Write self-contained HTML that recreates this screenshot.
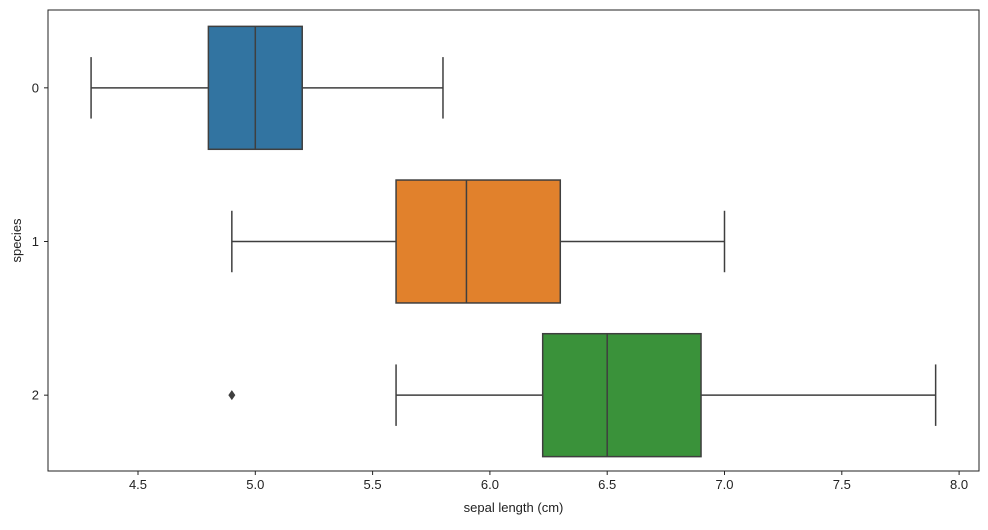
<!DOCTYPE html>
<html><head><meta charset="utf-8"><style>
body{margin:0;background:#fff;font-family:"Liberation Sans","DejaVu Sans",sans-serif}
svg text{font-family:"Liberation Sans","DejaVu Sans",sans-serif;font-size:13px;fill:#222}
</style></head><body>
<svg id="chart" width="988" height="525" xmlns="http://www.w3.org/2000/svg"></svg>
<script>
const categories=["0","1","2"];
const mins=[4.3,4.9,5.6];
const q1s=[4.8,5.6,6.225];
const medians=[5.0,5.9,6.5];
const q3s=[5.2,6.3,6.9];
const maxs=[5.8,7.0,7.9];
const outliers=[[],[],[4.9]];
const colors=["#3274a1","#e1812c","#3a923a"];
const xTicks=[4.5,5.0,5.5,6.0,6.5,7.0,7.5,8.0];
const xTickLabels=["4.5","5.0","5.5","6.0","6.5","7.0","7.5","8.0"];

const L=48,R=979,T=10,B=471;
const x=v=>138+(v-4.5)*234.6;
const band=(B-T)/categories.length;
const y=i=>T+1+band*(i+0.5);
const svg=document.getElementById('chart');
const NS="http://www.w3.org/2000/svg";
function mk(tag,attrs,parent){const e=document.createElementNS(NS,tag);for(const k in attrs)e.setAttribute(k,attrs[k]);(parent||svg).appendChild(e);return e;}
const line='#3f3f3f';
categories.forEach((c,i)=>{
  const g=mk('g',{});
  
  
  const cy=y(i),h=band*0.8,cap=band*0.2;
  mk('line',{x1:x(mins[i]),x2:x(q1s[i]),y1:cy,y2:cy,stroke:line,'stroke-width':1.5},g);
  mk('line',{x1:x(q3s[i]),x2:x(maxs[i]),y1:cy,y2:cy,stroke:line,'stroke-width':1.5},g);
  mk('line',{x1:x(mins[i]),x2:x(mins[i]),y1:cy-cap,y2:cy+cap,stroke:line,'stroke-width':1.5},g);
  mk('line',{x1:x(maxs[i]),x2:x(maxs[i]),y1:cy-cap,y2:cy+cap,stroke:line,'stroke-width':1.5},g);
  mk('rect',{x:x(q1s[i]),y:cy-h/2,width:x(q3s[i])-x(q1s[i]),height:h,fill:colors[i],stroke:line,'stroke-width':1.5},g);
  mk('line',{x1:x(medians[i]),x2:x(medians[i]),y1:cy-h/2,y2:cy+h/2,stroke:line,'stroke-width':1.5},g);
  outliers[i].forEach(o=>{
    const p=mk('path',{d:`M${x(o)} ${cy-5}L${x(o)+3.5} ${cy}L${x(o)} ${cy+5}L${x(o)-3.5} ${cy}Z`,fill:line},g);
    
    
  });
  mk('line',{x1:L,x2:L-4,y1:cy,y2:cy,stroke:'#222','stroke-width':1});
  const t=mk('text',{x:L-9,y:cy+4.5,'text-anchor':'end'});t.textContent=c;
  
  
});
xTicks.forEach((v,i)=>{
  mk('line',{x1:x(v),x2:x(v),y1:B,y2:B+4,stroke:'#222','stroke-width':1});
  const t=mk('text',{x:x(v),y:B+18,'text-anchor':'middle'});t.textContent=xTickLabels[i];
  
  
});
const frame=mk('rect',{x:L,y:T,width:R-L,height:B-T,fill:'none',stroke:'#222','stroke-width':1});


const xl=mk('text',{x:(L+R)/2,y:512,'text-anchor':'middle'});xl.textContent='sepal length (cm)';


const yl=mk('text',{x:21,y:(T+B)/2,'text-anchor':'middle',transform:`rotate(-90 21 ${(T+B)/2})`});yl.textContent='species';


</script>
</body></html>
